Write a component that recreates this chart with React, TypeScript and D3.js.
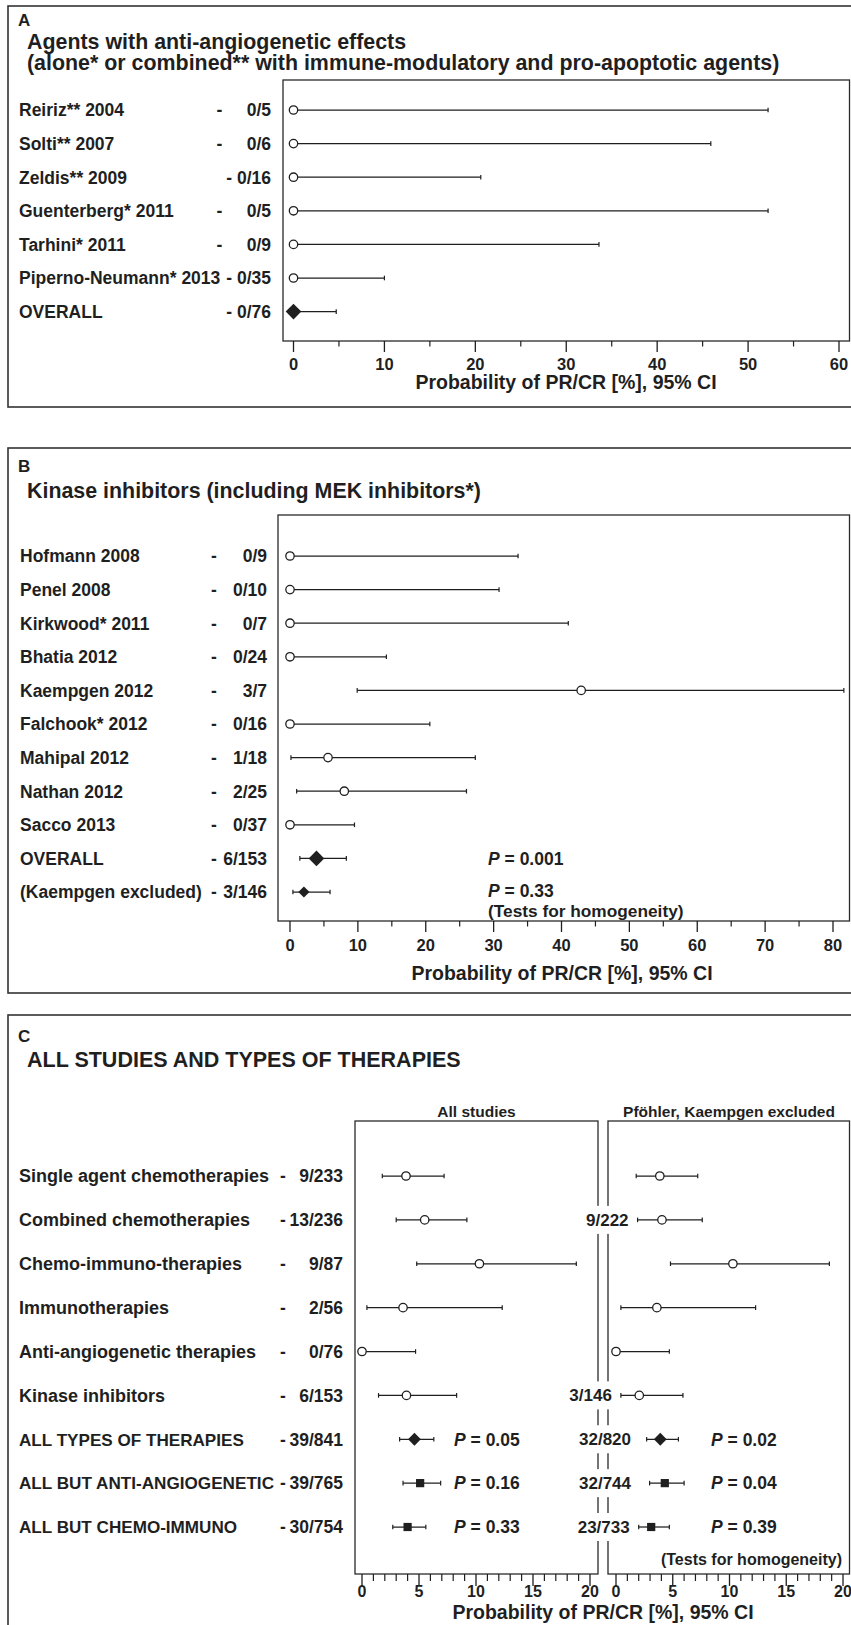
import React from "react";
import * as d3 from "d3";

// ---------- Panel A data ----------
const aLabels = ["Reiriz** 2004", "Solti** 2007", "Zeldis** 2009", "Guenterberg* 2011", "Tarhini* 2011", "Piperno-Neumann* 2013", "OVERALL"];
const aCounts = ["0/5", "0/6", "0/16", "0/5", "0/9", "0/35", "0/76"];
const aEst = [0, 0, 0, 0, 0, 0, 0];
const aLow = [0, 0, 0, 0, 0, 0, 0];
const aHigh = [52.2, 45.9, 20.6, 52.2, 33.6, 10.0, 4.7];
const aMarks = ["circle", "circle", "circle", "circle", "circle", "circle", "diamond-lg"];
const aTicks = [0, 10, 20, 30, 40, 50, 60];
const aMinor = [5, 15, 25, 35, 45, 55];

// ---------- Panel B data ----------
const bLabels = ["Hofmann 2008", "Penel 2008", "Kirkwood* 2011", "Bhatia 2012", "Kaempgen 2012", "Falchook* 2012", "Mahipal 2012", "Nathan 2012", "Sacco 2013", "OVERALL", "(Kaempgen excluded)"];
const bCounts = ["0/9", "0/10", "0/7", "0/24", "3/7", "0/16", "1/18", "2/25", "0/37", "6/153", "3/146"];
const bEst = [0, 0, 0, 0, 42.9, 0, 5.6, 8.0, 0, 3.9, 2.05];
const bLow = [0, 0, 0, 0, 9.9, 0, 0.14, 0.98, 0, 1.45, 0.43];
const bHigh = [33.6, 30.8, 41.0, 14.2, 81.6, 20.6, 27.3, 26.0, 9.5, 8.3, 5.9];
const bMarks = ["circle", "circle", "circle", "circle", "circle", "circle", "circle", "circle", "circle", "diamond-lg", "diamond-sm"];
const bTicks = [0, 10, 20, 30, 40, 50, 60, 70, 80];
const bMinor = [5, 15, 25, 35, 45, 55, 65, 75];
const bPValues = ["0.001", "0.33"];

// ---------- Panel C data ----------
const cLabels = ["Single agent chemotherapies", "Combined chemotherapies", "Chemo-immuno-therapies", "Immunotherapies", "Anti-angiogenetic therapies", "Kinase inhibitors", "ALL TYPES OF THERAPIES", "ALL BUT ANTI-ANGIOGENETIC", "ALL BUT CHEMO-IMMUNO"];
const cCounts = ["9/233", "13/236", "9/87", "2/56", "0/76", "6/153", "39/841", "39/765", "30/754"];
const cAllEst = [3.86, 5.5, 10.3, 3.6, 0, 3.9, 4.6, 5.1, 4.0];
const cAllLow = [1.78, 3.0, 4.8, 0.43, 0, 1.45, 3.3, 3.6, 2.7];
const cAllHigh = [7.2, 9.2, 18.8, 12.3, 4.7, 8.3, 6.3, 6.9, 5.6];
const cExclCounts = ["", "9/222", "", "", "", "3/146", "32/820", "32/744", "23/733"];
const cExclEst = [3.86, 4.05, 10.3, 3.6, 0, 2.05, 3.9, 4.3, 3.1];
const cExclLow = [1.78, 1.9, 4.8, 0.43, 0, 0.43, 2.7, 2.96, 2.0];
const cExclHigh = [7.2, 7.6, 18.8, 12.3, 4.7, 5.9, 5.5, 6.0, 4.7];
const cMarks = ["circle", "circle", "circle", "circle", "circle", "circle", "diamond-md", "square", "square"];
const cPAll = ["", "", "", "", "", "", "0.05", "0.16", "0.33"];
const cPExcl = ["", "", "", "", "", "", "0.02", "0.04", "0.39"];
const cTicks = [0, 5, 10, 15, 20];
const cMinor = [1, 2, 3, 4, 6, 7, 8, 9, 11, 12, 13, 14, 16, 17, 18, 19];

// ---------- styles ----------
const FONT = "'Liberation Sans', Arial, Helvetica, sans-serif";
const INK = "#1f1f1f";
const LBL = 17.5;
const markerSize: Record<string, number> = { circle: 4.2, "diamond-lg": 7.8, "diamond-md": 6.4, "diamond-sm": 5.6, square: 4.1 };

let ctx: CanvasRenderingContext2D | null = null;
function textW(s: string, size = LBL) {
  if (!ctx && typeof document !== "undefined") ctx = document.createElement("canvas").getContext("2d");
  if (!ctx) return s.length * size * 0.55;
  ctx.font = `bold ${size}px ${FONT}`;
  return ctx.measureText(s).width;
}

function Marker({ kind, cx, cy }: { kind: string; cx: number; cy: number }) {
  const s = markerSize[kind];
  if (kind === "circle") return <circle cx={cx} cy={cy} r={s} fill="#fff" stroke={INK} strokeWidth={1.3} />;
  if (kind === "square") return <rect x={cx - s} y={cy - s} width={2 * s} height={2 * s} fill={INK} />;
  return <path d={`M${cx - s},${cy}L${cx},${cy - s}L${cx + s},${cy}L${cx},${cy + s}Z`} fill={INK} />;
}

function CI({ x, y, est, lo, hi, kind }: any) {
  const x0 = x(lo), x1 = x(hi);
  return (
    <g>
      <line x1={x0} x2={x1} y1={y} y2={y} stroke={INK} strokeWidth={1.25} />
      <line x1={x0} x2={x0} y1={y - 2.3} y2={y + 2.3} stroke={INK} strokeWidth={1.2} />
      <line x1={x1} x2={x1} y1={y - 2.3} y2={y + 2.3} stroke={INK} strokeWidth={1.2} />
      <Marker kind={kind} cx={x(est)} cy={y} />
    </g>
  );
}

function T({ x, y, size = LBL, anchor = "start", children, fit }: any) {
  return (
    <text x={x} y={y} fontFamily={FONT} fontWeight="bold" fontSize={size} fill={INK} textAnchor={anchor}
      {...(fit ? { textLength: fit, lengthAdjust: "spacingAndGlyphs" } : {})}>
      {children}
    </text>
  );
}

function PLabel({ x, y, v, size = LBL }: any) {
  return (
    <text x={x} y={y} fontFamily={FONT} fontWeight="bold" fontSize={size} fill={INK}>
      <tspan fontStyle="italic">P</tspan> = {v}
    </text>
  );
}

function Axis({ x, y0, ticks, minor, major = 11, minorLen = 5.5, labelY, size = 16.5 }: any) {
  return (
    <g>
      {ticks.map((t: number) => (
        <g key={"M" + t}>
          <line x1={x(t)} x2={x(t)} y1={y0} y2={y0 + major} stroke={INK} strokeWidth={1.3} />
          <T x={x(t)} y={labelY} size={size} anchor="middle">{t}</T>
        </g>
      ))}
      {minor.map((t: number) => (
        <line key={"m" + t} x1={x(t)} x2={x(t)} y1={y0} y2={y0 + minorLen} stroke={INK} strokeWidth={1.2} />
      ))}
    </g>
  );
}

const boxStroke = { fill: "none", stroke: "#333", strokeWidth: 1.6 } as const;
const plotStroke = { fill: "none", stroke: "#2a2a2a", strokeWidth: 1.3 } as const;

function PanelA() {
  const x = d3.scaleLinear().domain([0, 60]).range([293.5, 839]);
  const y = d3.scalePoint<string>().domain(aLabels).range([110, 311.6]);
  const countEnd = 271;
  const digit = textW("0"), space = textW(" "), dashW = textW("-");
  return (
    <g>
      <rect x={8} y={6} width={846} height={401} {...boxStroke} />
      <T x={18} y={26} size={17}>A</T>
      <T x={27} y={49} size={21.4}>Agents with anti-angiogenetic effects</T>
      <T x={27} y={70} size={21.4}>(alone* or combined** with immune-modulatory and pro-apoptotic agents)</T>
      <rect x={283} y={80} width={566.5} height={261} {...plotStroke} />
      {aLabels.map((l, i) => {
        const yy = y(l)!;
        const c = aCounts[i];
        const dashX = countEnd - textW(c) - space - Math.max(0, 4 - c.length) * 2 * digit - dashW / 2;
        return (
          <g key={l}>
            <T x={19} y={yy + 6.3}>{l}</T>
            <T x={dashX} y={yy + 6.3} anchor="middle">-</T>
            <T x={countEnd} y={yy + 6.3} anchor="end">{c}</T>
            <CI x={x} y={yy} est={aEst[i]} lo={aLow[i]} hi={aHigh[i]} kind={aMarks[i]} />
          </g>
        );
      })}
      <Axis x={x} y0={341} ticks={aTicks} minor={aMinor} labelY={370} />
      <T x={566} y={389} size={19.5} anchor="middle">Probability of PR/CR [%], 95% CI</T>
    </g>
  );
}

function PanelB() {
  const x = d3.scaleLinear().domain([0, 80]).range([290, 833]);
  const y = d3.scalePoint<string>().domain(bLabels).range([556, 892]);
  const yO = y("OVERALL")!;
  const yE = y("(Kaempgen excluded)")!;
  return (
    <g>
      <rect x={8} y={448} width={846} height={545} {...boxStroke} />
      <T x={18} y={472} size={17}>B</T>
      <T x={27} y={498} size={21.4}>Kinase inhibitors (including MEK inhibitors*)</T>
      <rect x={278} y={515} width={571.5} height={406} {...plotStroke} />
      {bLabels.map((l, i) => {
        const yy = y(l)!;
        return (
          <g key={l}>
            <T x={20} y={yy + 6.3}>{l}</T>
            <T x={214} y={yy + 6.3} anchor="middle">-</T>
            <T x={267} y={yy + 6.3} anchor="end">{bCounts[i]}</T>
            <CI x={x} y={yy} est={bEst[i]} lo={bLow[i]} hi={bHigh[i]} kind={bMarks[i]} />
          </g>
        );
      })}
      <PLabel x={488} y={yO + 6.3} v={bPValues[0]} />
      <PLabel x={488} y={yE + 5} v={bPValues[1]} />
      <T x={488} y={yE + 24.5} size={17.3}>(Tests for homogeneity)</T>
      <Axis x={x} y0={921} ticks={bTicks} minor={bMinor} labelY={951} />
      <T x={562} y={980} size={19.5} anchor="middle">Probability of PR/CR [%], 95% CI</T>
    </g>
  );
}

function PanelC() {
  const xL = d3.scaleLinear().domain([0, 20]).range([362, 590]);
  const xR = d3.scaleLinear().domain([0, 20]).range([616, 843]);
  const y = d3.scalePoint<string>().domain(cLabels).range([1176, 1527]);
  const plotTop = 1121, plotBottom = 1574;
  const labelX = 19;
  return (
    <g>
      <rect x={8} y={1015} width={846} height={640} {...boxStroke} />
      <T x={18} y={1042} size={17}>C</T>
      <T x={27} y={1067} size={21.5}>ALL STUDIES AND TYPES OF THERAPIES</T>
      <T x={476.5} y={1117} size={15.5} anchor="middle">All studies</T>
      <T x={729} y={1117} size={15.5} anchor="middle">Pföhler, Kaempgen excluded</T>
      <rect x={355} y={plotTop} width={243} height={plotBottom - plotTop} {...plotStroke} />
      <rect x={608} y={plotTop} width={241.5} height={plotBottom - plotTop} {...plotStroke} />
      {cLabels.map((l, i) => {
        const yy = y(l)!;
        const lab = cExclCounts[i];
        const xe = Math.min(631, xR(cExclLow[i]) - 9);
        const w = lab ? textW(lab, 17) : 0;
        const caps = l === l.toUpperCase();
        const size = caps ? 17.1 : 18;
        const lw = textW(l, size);
        const fit = labelX + lw > 274 ? 274 - labelX : undefined;
        const end = labelX + (fit ?? lw);
        const dashX = Math.max(283, end + textW(" ") + textW("-") / 2);
        return (
          <g key={l}>
            <T x={labelX} y={yy + 6.3} size={size} fit={fit}>{l}</T>
            <T x={dashX} y={yy + 6.3} anchor="middle">-</T>
            <T x={343} y={yy + 6.3} anchor="end">{cCounts[i]}</T>
            <CI x={xL} y={yy} est={cAllEst[i]} lo={cAllLow[i]} hi={cAllHigh[i]} kind={cMarks[i]} />
            <CI x={xR} y={yy} est={cExclEst[i]} lo={cExclLow[i]} hi={cExclHigh[i]} kind={cMarks[i]} />
            {lab && (
              <g>
                <rect x={xe - w - 3} y={yy - 14} width={w + 6} height={28} fill="#fff" />
                <T x={xe} y={yy + 6} size={17} anchor="end">{lab}</T>
              </g>
            )}
            {cPAll[i] && <PLabel x={454} y={yy + 6.3} v={cPAll[i]} />}
            {cPExcl[i] && <PLabel x={711} y={yy + 6.3} v={cPExcl[i]} />}
          </g>
        );
      })}
      <T x={842} y={plotBottom - 9} size={16} anchor="end">(Tests for homogeneity)</T>
      <Axis x={xL} y0={plotBottom} ticks={cTicks} minor={cMinor} major={12} minorLen={7} labelY={1597} size={16} />
      <Axis x={xR} y0={plotBottom} ticks={cTicks} minor={cMinor} major={12} minorLen={7} labelY={1597} size={16} />
      <T x={603} y={1619} size={19.5} anchor="middle">Probability of PR/CR [%], 95% CI</T>
    </g>
  );
}

export default function App() {
  return (
    <svg width={851} height={1625} viewBox="0 0 851 1625" style={{ position: "absolute", left: 0, top: 0, background: "#fff" }}>
      <rect x={0} y={0} width={851} height={1625} fill="#fff" />
      <PanelA />
      <PanelB />
      <PanelC />
    </svg>
  );
}
